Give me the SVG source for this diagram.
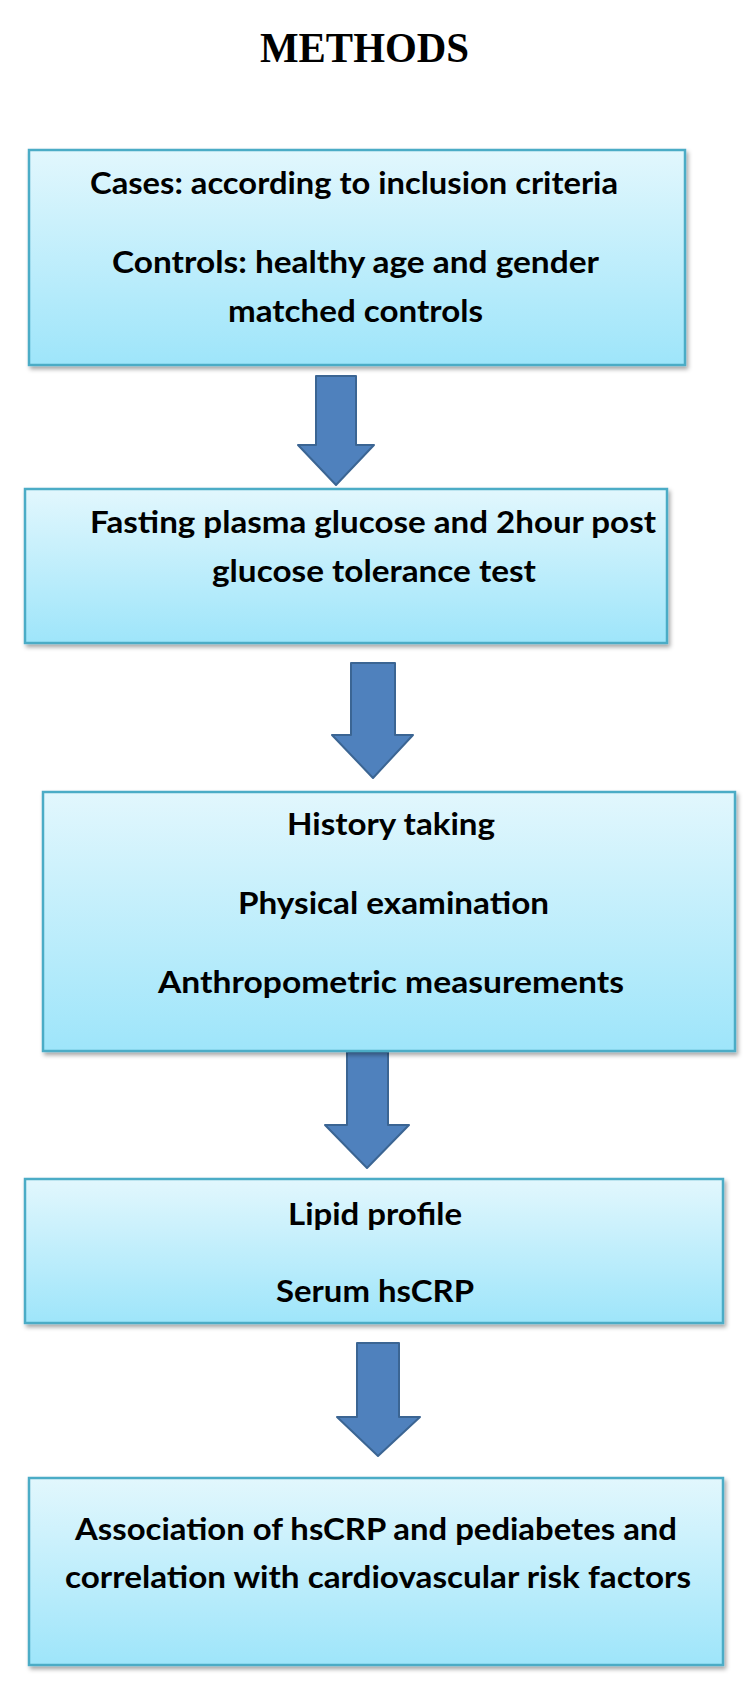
<svg xmlns="http://www.w3.org/2000/svg" width="750" height="1687" viewBox="0 0 750 1687">
<defs>
<linearGradient id="boxFill" x1="0" y1="0" x2="0" y2="1">
<stop offset="0" stop-color="#E2F7FD"/>
<stop offset="1" stop-color="#9EE5FA"/>
</linearGradient>
<filter id="shadow" x="-5%" y="-5%" width="110%" height="115%">
<feDropShadow dx="2" dy="3" stdDeviation="2" flood-color="#000" flood-opacity="0.35"/>
</filter>
<style>
.box{fill:url(#boxFill);stroke:#4BACC6;stroke-width:2.5;filter:url(#shadow);}
.arrow{fill:#4F81BD;stroke:#3B6593;stroke-width:2;stroke-linejoin:round;}
.t{font-family:Lato,"Open Sans","Liberation Sans",sans-serif;font-weight:bold;font-size:30px;fill:#000;}
.title{font-family:"Liberation Serif","Times New Roman",serif;font-weight:bold;font-size:42px;fill:#000;}
</style>
</defs>
<rect width="750" height="1687" fill="#FFFFFF"/>
<text class="title" x="260" y="62" textLength="209" lengthAdjust="spacingAndGlyphs">METHODS</text>

<g id="connectors">
<polygon class="arrow" points="316,376 356,376 356,445 374,445 336,485 298,445 316,445"/>
<polygon class="arrow" points="351,663 395,663 395,735 413,735 373,778 332,735 351,735"/>
<polygon class="arrow" points="347,1052 388,1052 388,1125 409,1125 367,1168 325,1125 347,1125"/>
<polygon class="arrow" points="357,1343 399,1343 399,1417 420,1417 378,1456 337,1417 357,1417"/>
</g>

<g id="node1">
<rect class="box" x="29" y="150" width="656" height="215"/>
<text class="t" x="90" y="194" textLength="528" lengthAdjust="spacingAndGlyphs">Cases: according to inclusion criteria</text>
<text class="t" x="112" y="273" textLength="487" lengthAdjust="spacingAndGlyphs">Controls:  healthy age and gender</text>
<text class="t" x="228" y="322" textLength="255" lengthAdjust="spacingAndGlyphs">matched controls</text>
</g>

<g id="node2">
<rect class="box" x="25" y="489" width="642" height="154"/>
<text class="t" x="90" y="533" textLength="566" lengthAdjust="spacingAndGlyphs">Fasting plasma glucose and 2hour post</text>
<text class="t" x="212" y="582" textLength="324" lengthAdjust="spacingAndGlyphs">glucose tolerance test</text>
</g>

<g id="node3">
<rect class="box" x="43" y="792" width="692" height="259"/>
<text class="t" x="287" y="835" textLength="208" lengthAdjust="spacingAndGlyphs">History taking</text>
<text class="t" x="238" y="914" textLength="311" lengthAdjust="spacingAndGlyphs">Physical examination</text>
<text class="t" x="158" y="993" textLength="466" lengthAdjust="spacingAndGlyphs">Anthropometric measurements</text>
</g>

<g id="node4">
<rect class="box" x="25" y="1179" width="698" height="144"/>
<text class="t" x="288" y="1225" textLength="174" lengthAdjust="spacingAndGlyphs">Lipid profile</text>
<text class="t" x="276" y="1302" textLength="198" lengthAdjust="spacingAndGlyphs">Serum hsCRP</text>
</g>

<g id="node5">
<rect class="box" x="29" y="1478" width="694" height="187"/>
<text class="t" x="75" y="1540" textLength="602" lengthAdjust="spacingAndGlyphs">Association of hsCRP and pediabetes and</text>
<text class="t" x="65" y="1588" textLength="626" lengthAdjust="spacingAndGlyphs">correlation with cardiovascular risk factors</text>
</g>
</svg>
